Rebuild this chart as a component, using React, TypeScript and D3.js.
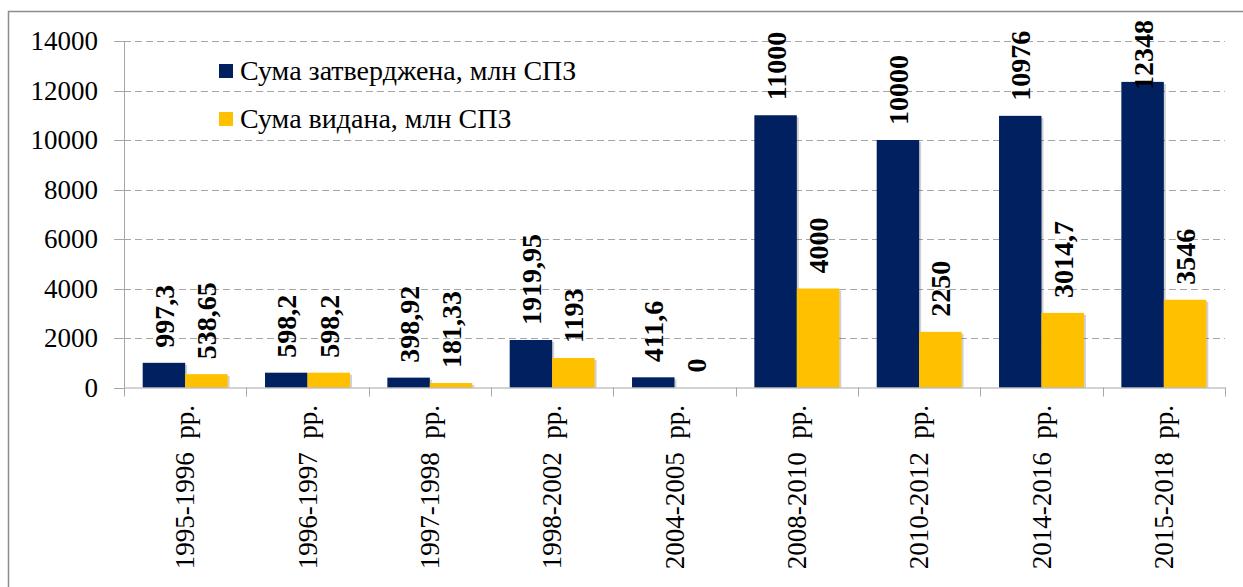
import * as d3 from 'd3';

const categories = [
  '1995-1996\u00A0\u00A0рр.',
  '1996-1997\u00A0\u00A0рр.',
  '1997-1998\u00A0\u00A0рр.',
  '1998-2002\u00A0\u00A0рр.',
  '2004-2005\u00A0\u00A0рр.',
  '2008-2010\u00A0\u00A0рр.',
  '2010-2012\u00A0\u00A0рр.',
  '2014-2016\u00A0\u00A0рр.',
  '2015-2018\u00A0\u00A0рр.',
];
const approved = [997.3, 598.2, 398.92, 1919.95, 411.6, 11000, 10000, 10976, 12348];
const issued = [538.65, 598.2, 181.33, 1193, 0, 4000, 2250, 3014.7, 3546];
const seriesNames = ['Сума затверджена, млн СПЗ', 'Сума видана, млн СПЗ'];
const seriesColors = ['#002060', '#FFC000'];
const yTicks = [0, 2000, 4000, 6000, 8000, 10000, 12000, 14000];

const FONT = 'Tinos, "Liberation Serif", "Times New Roman", serif';
const W = 1243, H = 587;
const plot = { left: 124, right: 1225, top: 41, bottom: 387.5 };

const y = d3.scaleLinear().domain([0, 14000]).range([plot.bottom, plot.top]);
const x0 = d3.scaleBand<string>().domain(categories).range([plot.left, plot.right]);
const x1 = d3.scaleBand<number>().domain([0, 1]).range([0, x0.bandwidth()]).paddingInner(0).paddingOuter(0.44);

const fmt = (v: number) => String(v).replace('.', ',');
// rough length of the bold 28px labels (digits 0.5em, comma 0.25em)
const labelLen = (s: string) => s.split('').reduce((a, c) => a + (c === ',' ? 7 : 14), 0);

const App = () => {
  const series = [approved, issued];
  const bounds = categories.map(c => x0(c) as number).concat([plot.right]);
  const px = (v: number) => Math.round(v) + 0.5;

  return (
    <svg width={W} height={H}
      style={{ position: 'absolute', left: 0, top: 0, background: '#fff', fontFamily: FONT }}>
      {/* chart border */}
      <line x1={8.5} y1={11} x2={8.5} y2={H} stroke="#8c8c8c" strokeWidth={1.5} />
      <line x1={8} y1={11.5} x2={W} y2={11.5} stroke="#8c8c8c" strokeWidth={1.5} />

      {/* gridlines */}
      {yTicks.filter(t => t > 0).map(t => (
        <line key={'g' + t} x1={plot.left} x2={plot.right} y1={px(y(t))} y2={px(y(t))}
          stroke="#a6a6a6" strokeDasharray="7,4" />
      ))}
      {yTicks.map(t => (
        <line key={'t' + t} x1={plot.left - 10} x2={plot.left} y1={px(y(t))} y2={px(y(t))} stroke="#a6a6a6" />
      ))}
      {yTicks.map(t => (
        <text key={'l' + t} x={98} y={y(t) + 9} textAnchor="end"
          style={{ fontFamily: FONT, fontSize: 27 }}>{t}</text>
      ))}
      <line x1={plot.left + 0.5} x2={plot.left + 0.5} y1={plot.top} y2={plot.bottom} stroke="#a6a6a6" />

      {/* bar shadows */}
      {series.map((vals, s) => vals.map((v, i) => (
        <rect key={`sh${s}-${i}`}
          x={(x0(categories[i]) as number) + (x1(s) as number) + 2}
          width={x1.bandwidth()}
          y={y(v) + 2}
          height={Math.max(0, plot.bottom - y(v) - 2)}
          fill="#000" opacity={v > 0 ? 0.18 : 0} />
      )))}
      {/* bars */}
      {series.map((vals, s) => vals.map((v, i) => (
        <rect key={`b${s}-${i}`}
          x={(x0(categories[i]) as number) + (x1(s) as number)}
          width={x1.bandwidth()}
          y={y(v)}
          height={plot.bottom - y(v)}
          fill={seriesColors[s]} />
      )))}

      {/* x axis */}
      <line x1={plot.left} x2={plot.right} y1={plot.bottom + 0.5} y2={plot.bottom + 0.5} stroke="#a6a6a6" />
      {bounds.map((b, i) => (
        <line key={'x' + i} x1={px(b)} x2={px(b)} y1={plot.bottom} y2={plot.bottom + 9} stroke="#a6a6a6" />
      ))}
      {categories.map(c => (
        <text key={c} transform={`translate(${(x0(c) as number) + x0.bandwidth() / 2 + 9},405) rotate(-90)`}
          textAnchor="end"
          style={{ fontFamily: FONT, fontSize: 27 }}>{c}</text>
      ))}

      {/* value labels */}
      {series.map((vals, s) => vals.map((v, i) => {
        const txt = fmt(v);
        let base = y(v) - 15;
        const len = labelLen(txt);
        if (base - len < 20) base = 20 + len;
        const cx = (x0(categories[i]) as number) + (x1(s) as number) + x1.bandwidth() / 2 + 10;
        return (
          <text key={`v${s}-${i}`} transform={`translate(${cx},${base}) rotate(-90)`}
            style={{ fontFamily: FONT, fontSize: 28, fontWeight: 'bold' }}>{txt}</text>
        );
      }))}

      {/* legend */}
      {seriesNames.map((name, i) => (
        <rect key={'lr' + i} x={219} y={64 + i * 48} width={14} height={14} fill={seriesColors[i]} />
      ))}
      {seriesNames.map((name, i) => (
        <text key={'lt' + i} x={240} y={71 + i * 48 + 9}
          style={{ fontFamily: FONT, fontSize: 28 }}>{name}</text>
      ))}
    </svg>
  );
};

export default App;
